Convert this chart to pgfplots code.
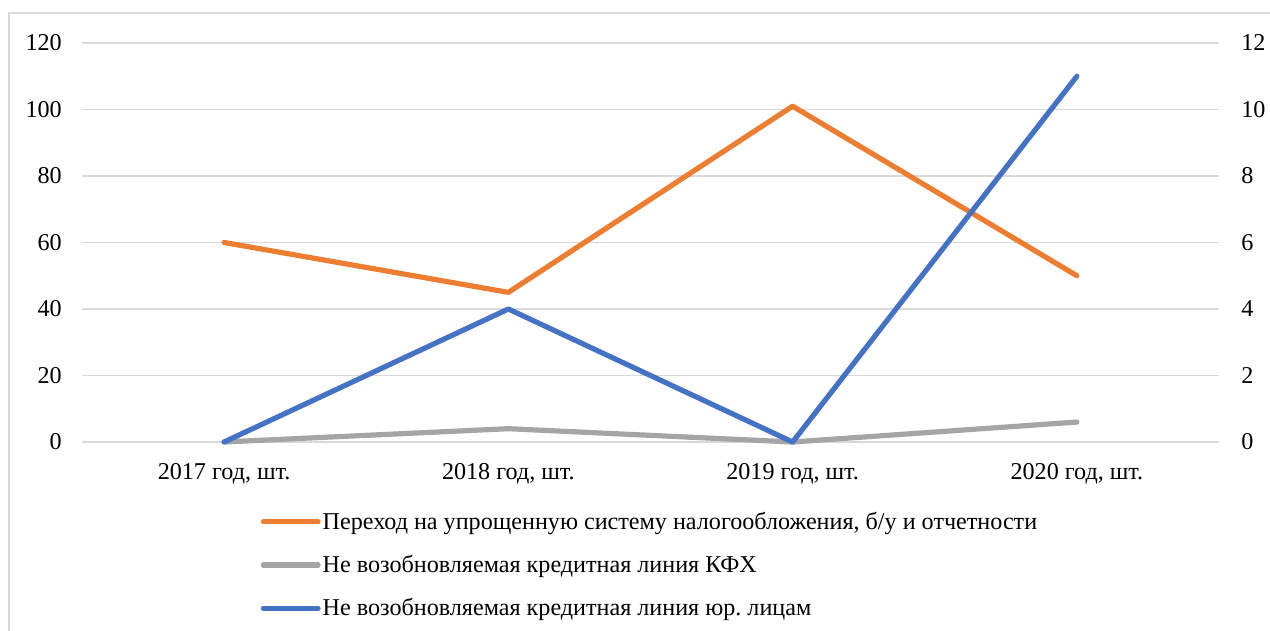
\documentclass[border=0pt]{standalone}
\usepackage{fontspec}
\setmainfont{Liberation Serif}
\usepackage{pgfplots}
\pgfplotsset{compat=1.18}
\frenchspacing
\definecolor{cOr}{HTML}{ED7D31}
\definecolor{cGr}{HTML}{A5A5A5}
\definecolor{cBl}{HTML}{4472C4}
\definecolor{cGrid}{HTML}{D9D9D9}
\newcommand{\fs}{\fontsize{18.1}{21}\selectfont}
\begin{document}
\begin{tikzpicture}
\path[use as bounding box] (0,0) rectangle (952.5pt,473.25pt);
\draw[cGrid, line width=1.5pt] (6.75pt,-10pt) rectangle (965pt,463.5pt);
\pgfplotsset{
  common/.style={
    at={(61.5pt,141.75pt)}, anchor=south west,
    scale only axis, width=852.75pt, height=299.25pt,
    xmin=-0.5, xmax=3.5,
    axis line style={draw=none},
    major tick length=0pt,
    tick label style={font=\fs},
    /pgf/number format/assume math mode=true,
    clip=false,
  },
  lst/.style={line width=3.9pt, line cap=round, line join=round},
}
\begin{axis}[common,
  ymin=0, ymax=120, ytick={0,20,...,120},
  ymajorgrids, grid style={cGrid, line width=1.2pt},
  xtick={0,1,2,3},
  xticklabels={{2017 год, шт.},{2018 год, шт.},{2019 год, шт.},{2020 год, шт.}},
  xticklabel style={inner sep=0pt, yshift=-15.75pt},
  yticklabel style={inner sep=0pt, xshift=-15pt},
]
\addplot[lst, cOr] coordinates {(0,60) (1,45) (2,101) (3,50)};
\addplot[lst, cGr] coordinates {(0,0) (1,4) (2,0) (3,6)};
\end{axis}
\begin{axis}[common,
  axis y line*=right, axis x line=none,
  ymin=0, ymax=12, ytick={0,2,...,12},
  yticklabel style={inner sep=0pt, xshift=16.5pt, anchor=west},
  legend style={at={(rel axis cs:0.157,-0.170)}, anchor=north west,
    draw=none, fill=none, font=\fs, row sep=15pt, inner sep=0pt,
    nodes={inner sep=1.5pt}},
  legend cell align=left,
  legend image code/.code={\draw[#1] (0pt,0pt) -- (41pt,0pt);},
]
\addlegendimage{lst, cOr}
\addlegendentry{Переход на упрощенную систему налогообложения, б/у и отчетности}
\addlegendimage{lst, cGr}
\addlegendentry{Не возобновляемая кредитная линия КФХ}
\addplot[lst, cBl] coordinates {(0,0) (1,4) (2,0) (3,11)};
\addlegendentry{Не возобновляемая кредитная линия юр.\ лицам}
\end{axis}
\end{tikzpicture}
\end{document}
